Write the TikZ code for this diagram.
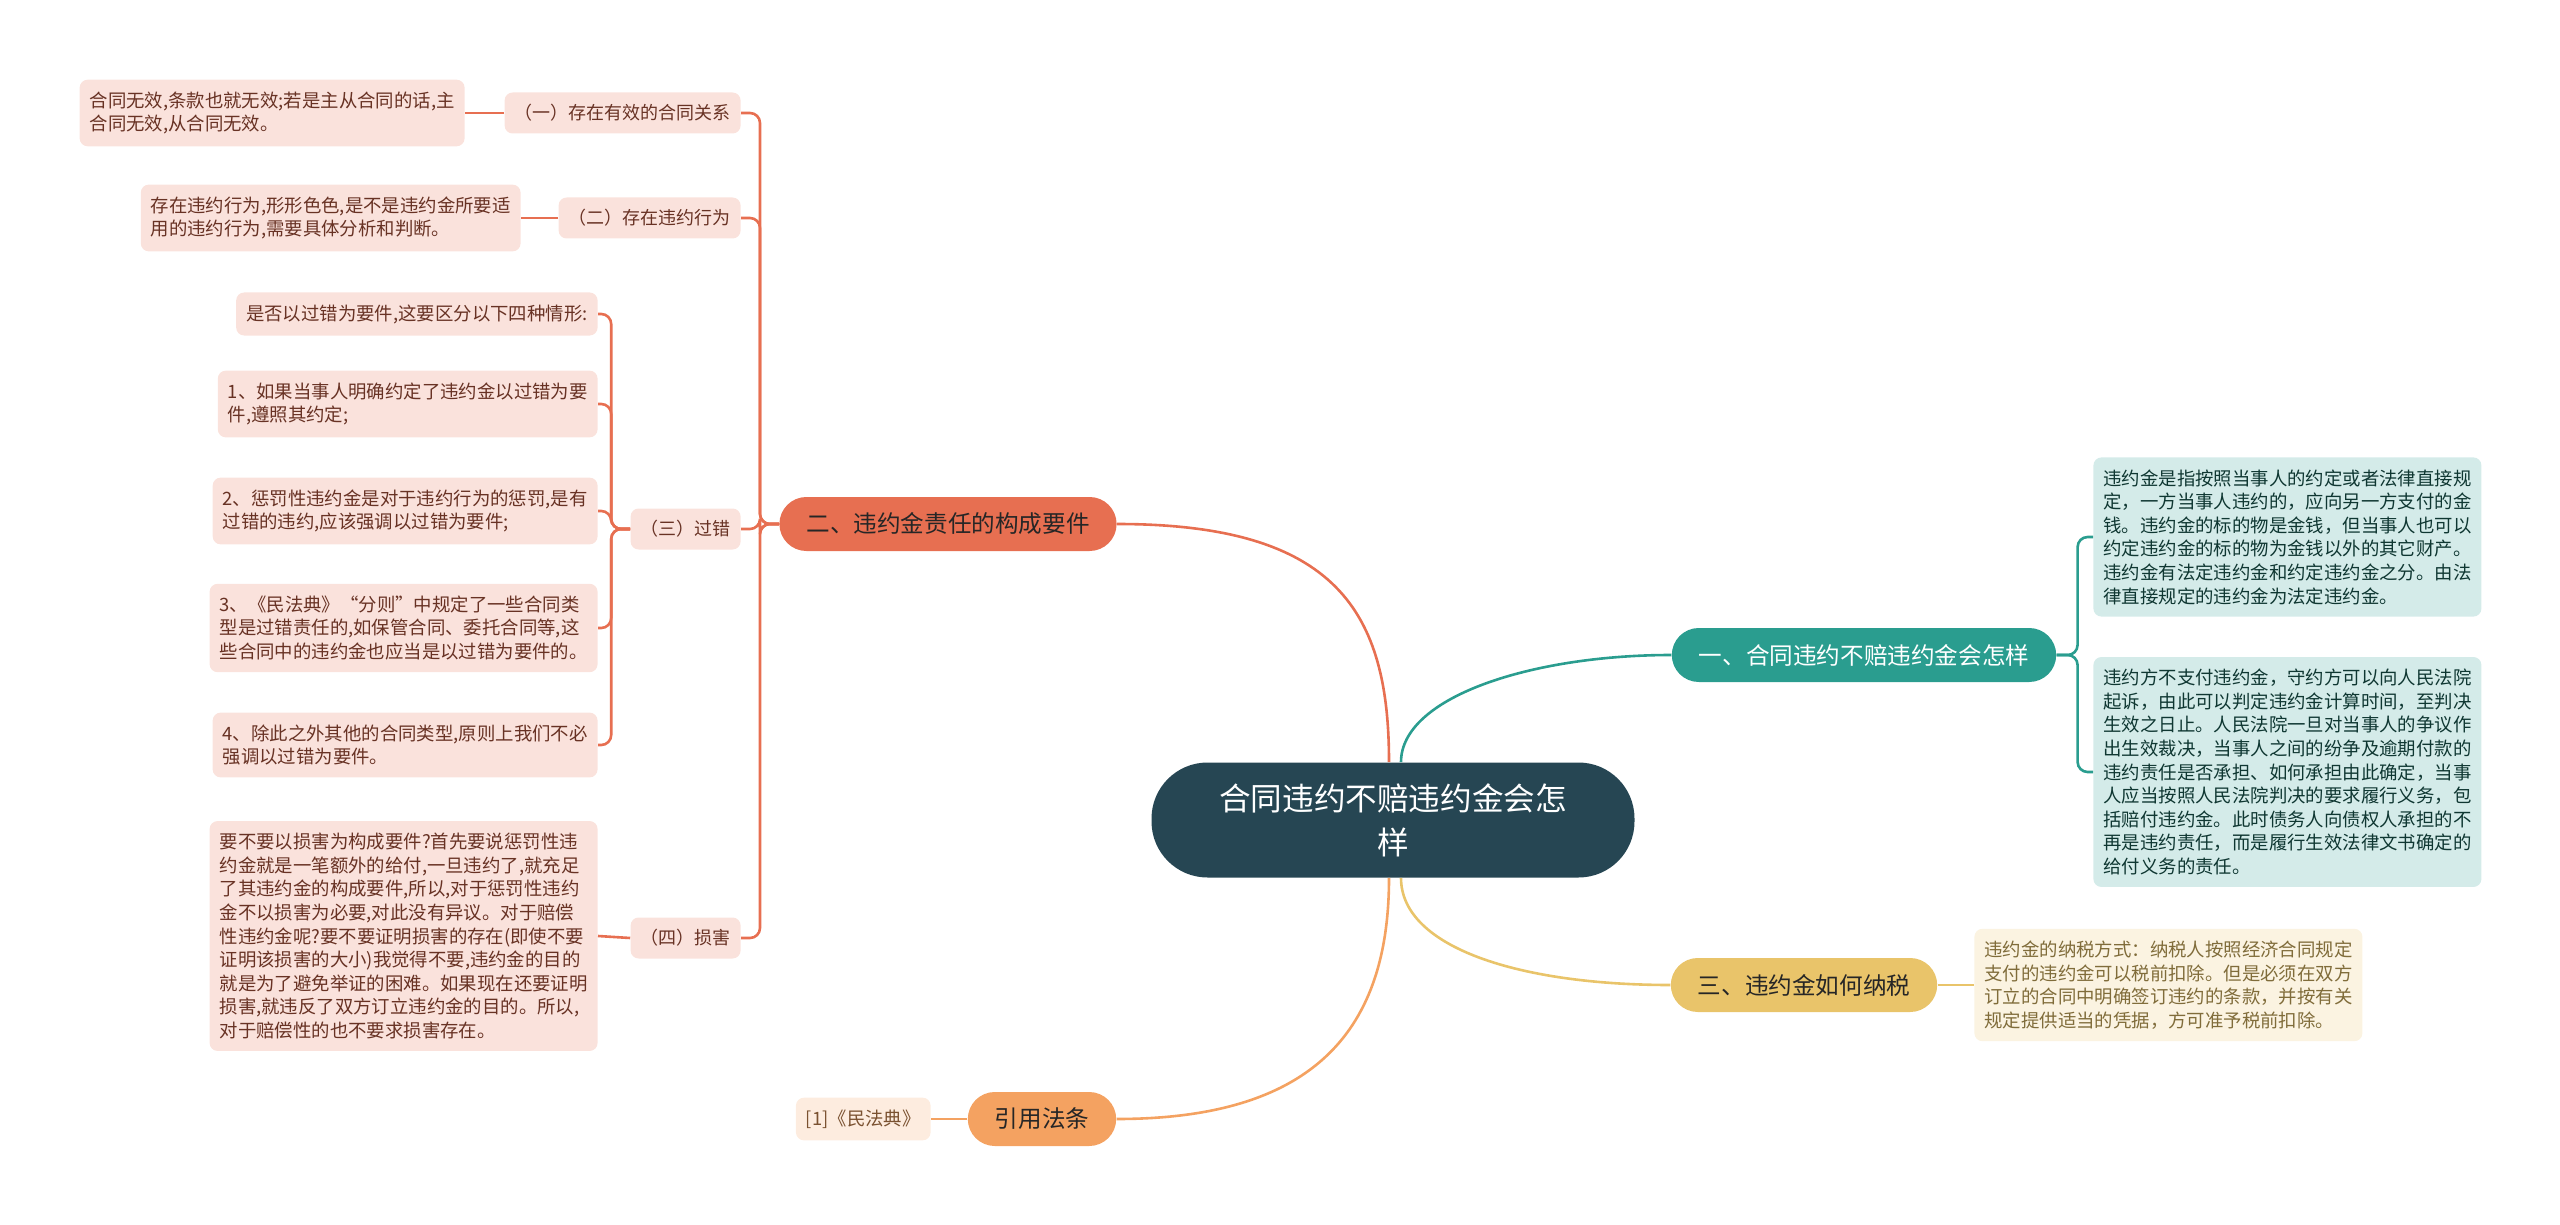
\documentclass[tikz,border=0pt]{standalone}
\usepackage{fontspec}
\setmainfont{Noto Sans CJK SC}
\definecolor{rootc}{HTML}{264653}
\definecolor{redc}{HTML}{E76F51}
\definecolor{tealc}{HTML}{2A9D8F}
\definecolor{yelc}{HTML}{E9C46A}
\definecolor{orac}{HTML}{F4A261}

\begin{document}
\begin{tikzpicture}[x=0.5pt,y=-0.5pt,
        rootbox/.style={fill=rootc,text=white,rounded corners=28pt,minimum width=241.5pt,minimum height=57.5pt,align=center,font=\fontsize{15.8}{22}\selectfont},
        mainbox/.style={rounded corners=13.5pt,inner xsep=13.5pt,minimum height=27pt,text=black!85,font=\fontsize{11.8}{14}\selectfont},
        subbox/.style={fill=redc!20,text=redc!45!black,rounded corners=4pt,inner xsep=5pt,minimum height=20.5pt,font=\fontsize{9}{11}\selectfont},
        leafbox/.style={rounded corners=4pt,inner xsep=5pt,inner ysep=6pt,align=left,font=\fontsize{9.2}{11.8}\selectfont},
        redleaf/.style={leafbox,fill=redc!20,text=redc!45!black},
        tealleaf/.style={leafbox,fill=tealc!20,text=tealc!35!black},
        yelleaf/.style={leafbox,fill=yelc!20,text=yelc!55!black},
        oraleaf/.style={leafbox,fill=orac!20,text=orac!50!black},
        redline/.style={draw=redc,line width=1.3pt,rounded corners=5pt},
        tealline/.style={draw=tealc,line width=1.3pt,rounded corners=5pt},
        yelline/.style={draw=yelc,line width=1.3pt},
        oraline/.style={draw=orac,line width=1.3pt}]
        \useasboundingbox (0,0) rectangle (2560,1225);
        \node[rootbox] (R) at (1393,820) {合同违约不赔违约金会怎\\样};
        \node[mainbox,fill=redc] (A) at (948,524) {二、违约金责任的构成要件};
        \node[mainbox,fill=tealc,text=white] (B) at (1864,655) {一、合同违约不赔违约金会怎样};
        \node[mainbox,fill=yelc] (C) at (1804,985) {三、违约金如何纳税};
        \node[mainbox,fill=orac] (D) at (1042,1119) {引用法条};
        \node[subbox,anchor=east] (A1) at (741,113) {（一）存在有效的合同关系};
        \node[subbox,anchor=east] (A2) at (741,218) {（二）存在违约行为};
        \node[subbox,anchor=east] (A3) at (741,529) {（三）过错};
        \node[subbox,anchor=east] (A4) at (741,938) {（四）损害};
        \node[redleaf,anchor=east] (A11) at (465,113) {合同无效,条款也就无效;若是主从合同的话,主\\合同无效,从合同无效。};
        \node[redleaf,anchor=east] (A21) at (521,218) {存在违约行为,形形色色,是不是违约金所要适\\用的违约行为,需要具体分析和判断。};
        \node[redleaf,anchor=east] (A31) at (598,314) {是否以过错为要件,这要区分以下四种情形:};
        \node[redleaf,anchor=east] (A32) at (598,404) {1、如果当事人明确约定了违约金以过错为要\\件,遵照其约定;};
        \node[redleaf,anchor=east] (A33) at (598,511) {2、惩罚性违约金是对于违约行为的惩罚,是有\\过错的违约,应该强调以过错为要件;};
        \node[redleaf,anchor=east] (A34) at (598,628) {3、《民法典》“分则”中规定了一些合同类\\型是过错责任的,如保管合同、委托合同等,这\\些合同中的违约金也应当是以过错为要件的。};
        \node[redleaf,anchor=east] (A35) at (598,745) {4、除此之外其他的合同类型,原则上我们不必\\强调以过错为要件。};
        \node[redleaf,anchor=east] (A41) at (598,936) {要不要以损害为构成要件?首先要说惩罚性违\\约金就是一笔额外的给付,一旦违约了,就充足\\了其违约金的构成要件,所以,对于惩罚性违约\\金不以损害为必要,对此没有异议。对于赔偿\\性违约金呢?要不要证明损害的存在(即使不要\\证明该损害的大小)我觉得不要,违约金的目的\\就是为了避免举证的困难。如果现在还要证明\\损害,就违反了双方订立违约金的目的。所以,\\对于赔偿性的也不要求损害存在。};
        \node[tealleaf,anchor=west] (B1) at (2093,537) {违约金是指按照当事人的约定或者法律直接规\\定，一方当事人违约的，应向另一方支付的金\\钱。违约金的标的物是金钱，但当事人也可以\\约定违约金的标的物为金钱以外的其它财产。\\违约金有法定违约金和约定违约金之分。由法\\律直接规定的违约金为法定违约金。};
        \node[tealleaf,anchor=west] (B2) at (2093,772) {违约方不支付违约金，守约方可以向人民法院\\起诉，由此可以判定违约金计算时间，至判决\\生效之日止。人民法院一旦对当事人的争议作\\出生效裁决，当事人之间的纷争及逾期付款的\\违约责任是否承担、如何承担由此确定，当事\\人应当按照人民法院判决的要求履行义务，包\\括赔付违约金。此时债务人向债权人承担的不\\再是违约责任，而是履行生效法律文书确定的\\给付义务的责任。};
        \node[yelleaf,anchor=west] (C1) at (1974,985) {违约金的纳税方式：纳税人按照经济合同规定\\支付的违约金可以税前扣除。但是必须在双方\\订立的合同中明确签订违约的条款，并按有关\\规定提供适当的凭据，方可准予税前扣除。};
        \node[oraleaf,anchor=east] (D1) at (931,1119) {[1]《民法典》};
        \draw[redline] ([xshift=-2pt]R.north) .. controls +(0,-150) and +(220,0) .. (A.east);
        \draw[tealline] ([xshift=4pt]R.north) .. controls +(0,-65) and +(-140,0) .. (B.west);
        \draw[yelline] ([xshift=4pt]R.south) .. controls +(0,70) and +(-150,0) .. (C.west);
        \draw[oraline] ([xshift=-2pt]R.south) .. controls +(0,150) and +(200,0) .. (D.east);
        \draw[redline] (A.west) -- ++(-19,0) |- (A1.east);
        \draw[redline] (A.west) -- ++(-19,0) |- (A2.east);
        \draw[redline] (A.west) -- ++(-19,0) |- (A3.east);
        \draw[redline] (A.west) -- ++(-19,0) |- (A4.east);
        \draw[redline] (A1.west) -- (A11.east);
        \draw[redline] (A2.west) -- (A21.east);
        \draw[redline] (A3.west) -- ++(-19,0) |- (A31.east);
        \draw[redline] (A3.west) -- ++(-19,0) |- (A32.east);
        \draw[redline] (A3.west) -- ++(-19,0) |- (A33.east);
        \draw[redline] (A3.west) -- ++(-19,0) |- (A34.east);
        \draw[redline] (A3.west) -- ++(-19,0) |- (A35.east);
        \draw[redline] (A4.west) -- (A41.east);
        \draw[tealline] (B.east) -- ++(21,0) |- (B1.west);
        \draw[tealline] (B.east) -- ++(21,0) |- (B2.west);
        \draw[yelline] (C.east) -- (C1.west);
        \draw[oraline] (D.west) -- (D1.east);
    \end{tikzpicture}
\end{document}
